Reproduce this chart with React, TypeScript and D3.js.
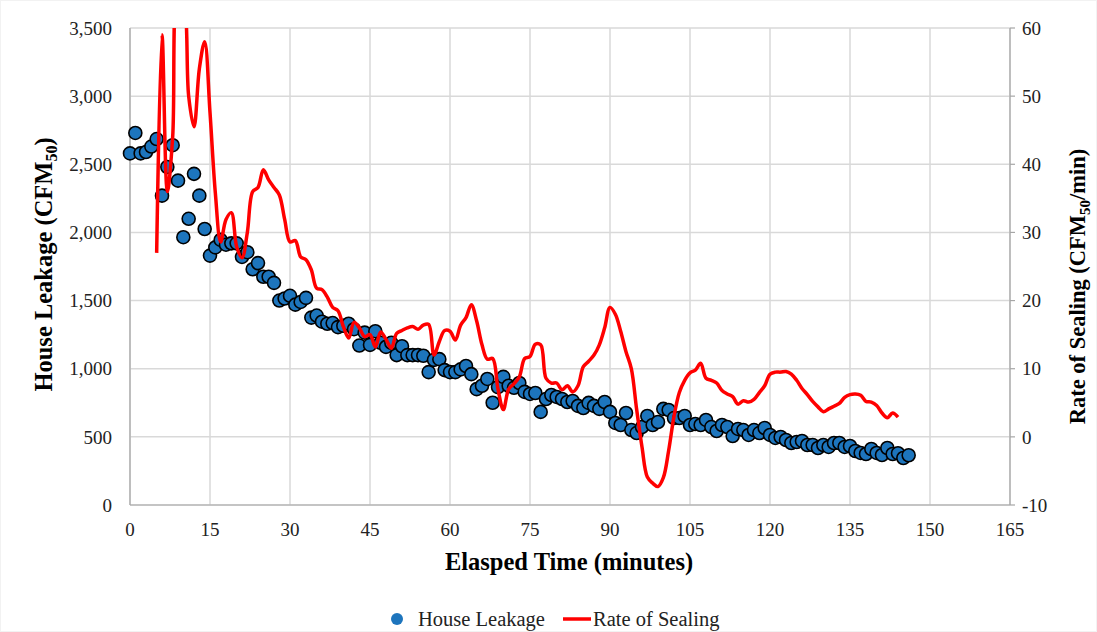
import { useMemo } from 'react'
import * as d3 from 'd3'

// House leakage (CFM50), one reading per minute from t = 0
const LEAKAGE = [
  2580, 2730, 2580, 2590, 2630, 2685, 2270, 2480, 2640, 2380,
  1965, 2100, 2430, 2270, 2025, 1830, 1890, 1945, 1910, 1920,
  1920, 1820, 1855, 1730, 1775, 1675, 1675, 1630, 1500, 1515,
  1535, 1470, 1490, 1520, 1375, 1390, 1345, 1330, 1335, 1305,
  1315, 1330, 1290, 1170, 1265, 1175, 1275, 1190, 1160, 1190,
  1100, 1165, 1100, 1100, 1100, 1095, 975, 1065, 1070, 990,
  975, 975, 995, 1020, 960, 850, 875, 925, 750, 865,
  940, 875, 860, 895, 830, 815, 822, 683, 778, 807,
  793, 778, 756, 763, 727, 712, 749, 727, 705, 756,
  683, 602, 587, 675, 550, 528, 572, 653, 587, 609,
  705, 697, 638, 638, 653, 587, 594, 587, 624, 572,
  543, 587, 572, 506, 558, 550, 514, 550, 528, 565,
  514, 492, 499, 477, 455, 462, 470, 440, 440, 418,
  440, 426, 455, 455, 426, 433, 396, 382, 374, 411,
  382, 367, 418, 374, 380, 345, 365,
]

// Rate of sealing (CFM50/min), one value per minute from t = 5
const RATE_START = 5
const RATE = [
  27, 59, 36, 44, 66, 65, 50, 45.5, 54, 58,
  47.6, 35.8, 28.6, 31.9, 32.9, 27.9, 26.3, 30, 36, 36.6,
  39.2, 37.7, 36.6, 35.5, 31.9, 28.6, 28.8, 26.4, 26, 24.5,
  21.8, 21.6, 20.5, 19, 18.5, 16.2, 14.5, 16.8, 16, 14.7,
  15, 13.2, 15.4, 14.3, 13, 15.2, 15.6, 16, 16.2, 15.8,
  16.4, 16.5, 12, 14, 15.6, 15.5, 14.2, 16.4, 17.5, 19.4,
  17, 13.5, 11.4, 11.5, 7, 4, 7, 7.8, 8.8, 11.5,
  11.8, 13.6, 13.5, 8.6, 7.9, 7.9, 6.9, 7.5, 6.6, 7.5,
  10.3, 11.1, 12, 13.5, 16, 19, 18, 15.5, 12.5, 10,
  4, -1.5, -5.9, -6.8, -7.3, -6, -2, 3, 6.5, 8.3,
  9.4, 9.8, 10.8, 8.6, 8.3, 7.9, 6.8, 6.3, 5.9, 4.8,
  5.3, 5.1, 5.5, 6.5, 7.5, 9.2, 9.5, 9.5, 9.6, 9.2,
  8.3, 7.1, 6.2, 5.2, 4.4, 3.7, 4.1, 4.5, 4.9, 5.8,
  6.2, 6.3, 6.1, 5.2, 5.1, 4.6, 3.5, 2.8, 3.5, 2.9,
]

const X_TICKS = d3.range(0, 166, 15)
const LEFT_TICKS = d3.range(0, 3501, 500)
const RIGHT_TICKS = d3.range(-10, 61, 10)

const W = 1097
const H = 632
const M = { left: 130, right: 87, top: 28, bottom: 127 }
const FONT = "'Liberation Serif', 'Times New Roman', Times, serif"
const GRID = '#d9d9d9'
const AXIS = '#a6a6a6'

export default function App() {
  const innerW = W - M.left - M.right
  const innerH = H - M.top - M.bottom

  const { x, yL, yR, linePath } = useMemo(() => {
    const x = d3.scaleLinear().domain([0, 165]).range([M.left, M.left + innerW])
    const yL = d3.scaleLinear().domain([0, 3500]).range([M.top + innerH, M.top])
    const yR = d3.scaleLinear().domain([-10, 60]).range([M.top + innerH, M.top])
    const gen = d3
      .line<number>()
      .x((_, i) => x(i + RATE_START))
      .y((v) => yR(v))
      .curve(d3.curveCatmullRom.alpha(0.5))
    return { x, yL, yR, linePath: gen(RATE) ?? '' }
  }, [innerW, innerH])

  const bottom = M.top + innerH
  const right = M.left + innerW
  const txt = { fontFamily: FONT }

  return (
    <svg width={W} height={H} style={{ position: 'absolute', left: 0, top: 0, background: '#fff', fontFamily: FONT }}>
      <defs>
        <clipPath id="plot">
          <rect x={M.left} y={M.top} width={innerW} height={innerH} />
        </clipPath>
      </defs>
      <rect x={0.5} y={0.5} width={W - 1} height={H - 1} fill="#fff" stroke="#f2f2f2" />

      {/* grid */}
      {LEFT_TICKS.map((v) => (
        <line key={'h' + v} x1={M.left} x2={right} y1={yL(v)} y2={yL(v)} stroke={GRID} strokeWidth={1.5} />
      ))}
      {X_TICKS.map((v) => (
        <line key={'v' + v} x1={x(v)} x2={x(v)} y1={M.top} y2={bottom} stroke={GRID} strokeWidth={1.5} />
      ))}

      {/* axes */}
      <line x1={M.left} x2={M.left} y1={M.top} y2={bottom} stroke={AXIS} strokeWidth={1.2} />
      <line x1={M.left} x2={right} y1={bottom} y2={bottom} stroke={AXIS} strokeWidth={1.2} />
      <line x1={right} x2={right} y1={M.top} y2={bottom} stroke={AXIS} strokeWidth={1.2} />
      {RIGHT_TICKS.map((v) => (
        <line key={'rt' + v} x1={right} x2={right + 5} y1={yR(v)} y2={yR(v)} stroke={AXIS} strokeWidth={1.2} />
      ))}

      {/* tick labels */}
      {LEFT_TICKS.map((v) => (
        <text key={'lt' + v} style={txt} x={M.left - 18} y={yL(v)} dy="0.35em" textAnchor="end" fontSize={19} fill="#222">
          {d3.format(',')(v)}
        </text>
      ))}
      {RIGHT_TICKS.map((v) => (
        <text key={'rl' + v} style={txt} x={right + 12} y={yR(v)} dy="0.35em" textAnchor="start" fontSize={19} fill="#222">
          {v}
        </text>
      ))}
      {X_TICKS.map((v) => (
        <text key={'xl' + v} style={txt} x={x(v)} y={bottom + 31} textAnchor="middle" fontSize={19} fill="#222">
          {v}
        </text>
      ))}

      {/* axis titles */}
      <text style={txt} x={(M.left + right) / 2 - 1} y={bottom + 65} textAnchor="middle" fontSize={24.5} fontWeight="bold" fill="#000">
        Elasped Time (minutes)
      </text>
      <text style={txt} transform={`translate(52, ${(M.top + bottom) / 2 - 2}) rotate(-90)`} textAnchor="middle" fontSize={24.5} fontWeight="bold" fill="#000">
        House Leakage (CFM<tspan fontSize={16} dy="5">50</tspan><tspan dy="-5">)</tspan>
      </text>
      <text style={txt} transform={`translate(1085, ${(M.top + bottom) / 2 + 20}) rotate(-90)`} textAnchor="middle" fontSize={22.5} fontWeight="bold" fill="#000">
        Rate of Sealing (CFM<tspan fontSize={15} dy="5">50</tspan><tspan dy="-5">/min)</tspan>
      </text>

      {/* house leakage points */}
      <g>
        {LEAKAGE.map((v, i) => (
          <circle key={'p' + i} cx={x(i)} cy={yL(v)} r={6.5} fill="#1d75bd" stroke="#000" strokeWidth={1.6} />
        ))}
      </g>

      {/* rate of sealing */}
      <path d={linePath} fill="none" stroke="#ff0000" strokeWidth={3.5} strokeLinejoin="round" clipPath="url(#plot)" />

      {/* legend */}
      <circle cx={397} cy={619} r={6} fill="#1d75bd" />
      <text style={txt} x={418} y={626} fontSize={20.5} fill="#222">House Leakage</text>
      <line x1={563} x2={591} y1={619} y2={619} stroke="#ff0000" strokeWidth={3.5} />
      <text style={txt} x={593} y={626} fontSize={20.5} fill="#222">Rate of Sealing</text>
    </svg>
  )
}
